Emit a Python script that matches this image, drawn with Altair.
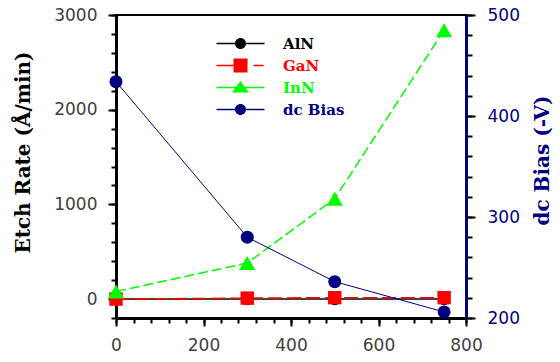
import altair as alt
import pandas as pd

# ---- values ----
bias_power = [0, 300, 500, 750]
aln_rate = [0, 0, 0, 0]
gan_rate = [0, 10, 15, 15]
inn_rate = [80, 380, 1060, 2840]
dc_bias = [434, 280, 236, 206]

series_names = ["AlN", "GaN", "InN", "dc Bias"]
series_colors = ["#000000", "#ff0000", "#00ff00", "#000080"]

x_major = [0, 200, 400, 600, 800]
x_minor = list(range(0, 801, 40))
left_major = [0, 1000, 2000, 3000]
left_minor = list(range(-200, 3001, 200))
right_major = [200, 300, 400, 500]
right_minor = list(range(200, 501, 20))

left_df = pd.DataFrame({
    "series": ["AlN"] * 4 + ["GaN"] * 4 + ["InN"] * 4,
    "x": bias_power * 3,
    "y": aln_rate + gan_rate + inn_rate,
})
right_df = pd.DataFrame({"series": ["dc Bias"] * 4, "x": bias_power, "y": dc_bias})
legend_df = pd.DataFrame({"series": series_names, "x": [0] * 4, "y": [0] * 4})

# legend glyphs: line stubs + marker (pixel units, size=4 -> scale 1)
circ_path = ("M-24,-0.7H-5.5V0.7H-24Z M5.5,-0.7H24V0.7H5.5Z "
             "M-5.5,0A5.5,5.5 0 1,0 5.5,0A5.5,5.5 0 1,0 -5.5,0Z")
sq_path = "M-24,-0.7H-7V0.7H-24Z M-7,-7H7V7H-7Z M13,-0.7H23V0.7H13Z"
tri_path = "M-24,-0.7H-4.7V0.7H-24Z M4.7,-0.7H24V0.7H4.7Z M0,-6.5L8.5,5L-8.5,5Z"
legend_shapes = [circ_path, sq_path, tri_path, circ_path]

tick_font = "DejaVu Sans"
title_font = "DejaVu Serif"

common = dict(grid=False, format="d", labelFont=tick_font, labelFontSize=17, tickCount=1000,
              labelOverlap=False, labelFlush=False, tickWidth=2, tickColor="black")

x_axis_major = alt.Axis(orient="bottom", values=x_major, title=None, tickSize=8,
                        labelColor="#404040", labelPadding=11,
                        domainColor="black", domainWidth=3, **common)
x_axis_minor = alt.Axis(orient="bottom", values=x_minor, title=None, tickSize=5,
                        labels=False, domain=False, **common)

left_axis_major = alt.Axis(
    orient="left", values=left_major, title="Etch Rate (Å/min)", tickSize=8,
    labelColor="#404040", labelPadding=11, domainColor="black", domainWidth=3,
    titleFont=title_font, titleFontSize=20, titleFontWeight="bold", titleColor="black",
    titleX=-83, titleY=137, titleBaseline="bottom", titleAngle=270, **common,
)
left_axis_minor = alt.Axis(orient="left", values=left_minor, title=None, tickSize=5,
                           labels=False, domain=False, **common)

right_axis_major = alt.Axis(
    orient="right", values=right_major, title="dc Bias (-V)", tickSize=9,
    labelColor="#000080", labelPadding=12, domainColor="#000080", domainWidth=3,
    titleFont=title_font, titleFontSize=20, titleFontWeight="bold", titleColor="#000080",
    titleX=86, titleY=145, titleBaseline="bottom", titleAngle=270, **common,
)
right_axis_minor = alt.Axis(orient="right", values=right_minor, title=None, tickSize=6,
                            labels=False, domain=False, **common)

x_scale = alt.Scale(domain=[0, 800], nice=False, zero=False)
left_scale = alt.Scale(domain=[-200, 3000], nice=False, zero=False)
right_scale = alt.Scale(domain=[200, 500], nice=False, zero=False)

xM = alt.X("x:Q", scale=x_scale, axis=x_axis_major)
xm = alt.X("x:Q", scale=x_scale, axis=x_axis_minor)
yLM = alt.Y("y:Q", scale=left_scale, axis=left_axis_major)
yLm = alt.Y("y:Q", scale=left_scale, axis=left_axis_minor)
yRM = alt.Y("y:Q", scale=right_scale, axis=right_axis_major)
yRm = alt.Y("y:Q", scale=right_scale, axis=right_axis_minor)

line_styles = {
    "AlN": dict(color="#000000", strokeWidth=1.5),
    "GaN": dict(color="#ff0000", strokeWidth=1.5, strokeDash=[14, 5]),
    "InN": dict(color="#00ff00", strokeWidth=1.5, strokeDash=[10, 4]),
}
point_styles = {
    "AlN": dict(shape="circle", size=150, color="#000000"),
    "GaN": dict(shape="square", size=180, color="#ff0000"),
    "InN": dict(shape="triangle-up", size=260, color="#00ff00"),
}

left_layers = []
for name in ["AlN", "GaN", "InN"]:
    base = alt.Chart(left_df).transform_filter(alt.datum.series == name)
    left_layers.append(base.mark_line(**line_styles[name]).encode(x=xM, y=yLM))
    left_layers.append(base.mark_point(filled=True, opacity=1, strokeWidth=0,
                                       **point_styles[name]).encode(x=xM, y=yLM))

legend_def = alt.Legend(
    title=None, orient="none", legendX=117, legendY=21, padding=0,
    symbolSize=4, symbolOpacity=1, symbolStrokeWidth=0,
    labelFont=title_font, labelFontSize=15, labelFontWeight="bold",
    labelColor={"expr": "datum.label == 'AlN' ? '#000000' : datum.label == 'GaN' ? '#ff0000' : datum.label == 'InN' ? '#00ff00' : '#000080'"},
    labelOffset=35, rowPadding=6,
)
legend_layer = alt.Chart(legend_df).mark_point(filled=True, opacity=0, size=4).encode(
    x=xM, y=yLm,
    color=alt.Color("series:N", scale=alt.Scale(domain=series_names, range=series_colors), legend=legend_def),
    shape=alt.Shape("series:N", scale=alt.Scale(domain=series_names, range=legend_shapes), legend=legend_def),
)

left = alt.layer(alt.layer(*left_layers), legend_layer).resolve_axis(y="independent")

right_base = alt.Chart(right_df)
right = alt.layer(
    right_base.mark_line(color="#000080", strokeWidth=1).encode(x=xm, y=yRM),
    right_base.mark_point(filled=True, opacity=1, strokeWidth=0, shape="circle",
                          size=169, color="#000080").encode(x=xm, y=yRm),
).resolve_axis(y="independent")

chart = alt.layer(left, right).resolve_scale(y="independent").resolve_axis(
    x="independent", y="independent"
).properties(
    width=350, height=303,
    autosize=alt.AutoSizeParams(type="none"),
    padding={"left": 116, "top": 15, "right": 94, "bottom": 44},
    background="white",
).configure_view(stroke="black", strokeWidth=2)

chart.save("out.html", embed_options={"renderer": "svg", "actions": False})
